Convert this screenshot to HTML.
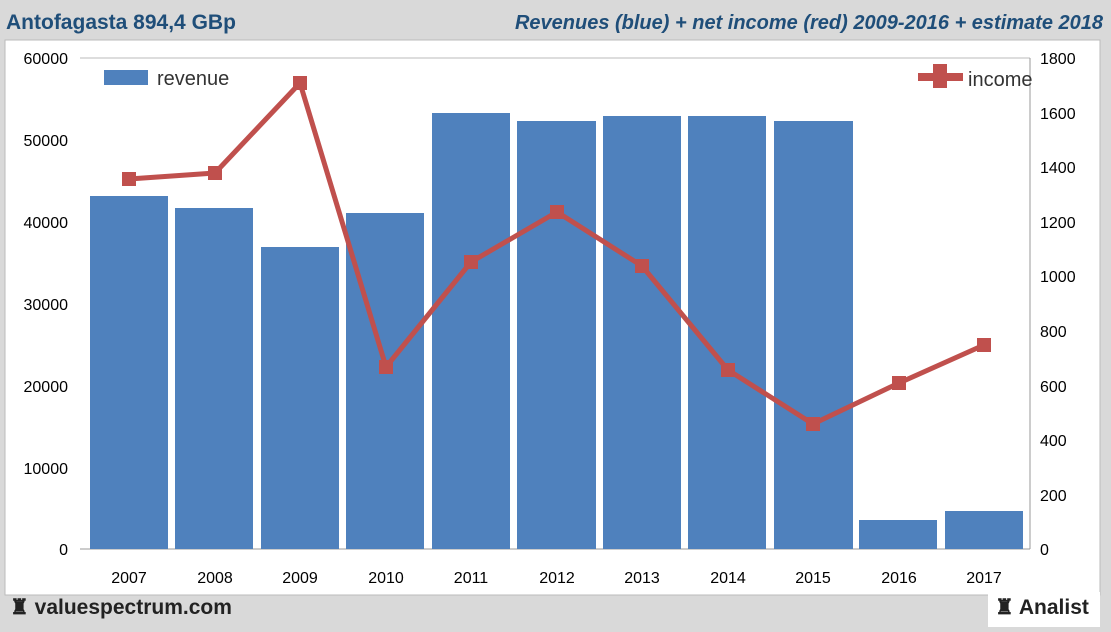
<!DOCTYPE html>
<html><head><meta charset="utf-8"><style>
body{margin:0;width:1111px;height:627px;overflow:hidden;background:#d9d9d9;font-family:"Liberation Sans",sans-serif}
</style></head><body>
<svg width="1111" height="627" xmlns="http://www.w3.org/2000/svg" font-family="Liberation Sans, sans-serif">
<rect x="0" y="0" width="1111" height="627" fill="#d9d9d9"/>
<rect x="5" y="40" width="1095" height="555" fill="#fff" stroke="#bbb"/>
<text x="6" y="29" font-size="21" font-weight="bold" fill="#1f4e79">Antofagasta 894,4 GBp</text>
<text x="1103" y="29" font-size="20" font-weight="bold" font-style="italic" fill="#1f4e79" text-anchor="end">Revenues (blue) + net income (red) 2009-2016 + estimate 2018</text>
<line x1="80" y1="58" x2="1030" y2="58" stroke="#bbb"/>
<line x1="80" y1="549" x2="1030" y2="549" stroke="#999"/>
<line x1="1030" y1="58" x2="1030" y2="549" stroke="#999"/>
<g font-size="16" fill="#000" text-anchor="end">
<text x="68" y="64">60000</text><text x="68" y="146">50000</text><text x="68" y="228">40000</text><text x="68" y="310">30000</text><text x="68" y="392">20000</text><text x="68" y="474">10000</text><text x="68" y="555">0</text>
</g>
<g font-size="16" fill="#000" text-anchor="start">
<text x="1040" y="64">1800</text><text x="1040" y="119">1600</text><text x="1040" y="173">1400</text><text x="1040" y="228">1200</text><text x="1040" y="282">1000</text><text x="1040" y="337">800</text><text x="1040" y="392">600</text><text x="1040" y="446">400</text><text x="1040" y="501">200</text><text x="1040" y="555">0</text>
</g>
<g fill="#4f81bd">
<rect x="90" y="196" width="78" height="353"/>
<rect x="175" y="208" width="78" height="341"/>
<rect x="261" y="247" width="78" height="302"/>
<rect x="346" y="213" width="78" height="336"/>
<rect x="432" y="113" width="78" height="436"/>
<rect x="517" y="121" width="79" height="428"/>
<rect x="603" y="116" width="78" height="433"/>
<rect x="688" y="116" width="78" height="433"/>
<rect x="774" y="121" width="79" height="428"/>
<rect x="859" y="520" width="78" height="29"/>
<rect x="945" y="511" width="78" height="38"/>
</g>
<polyline points="129,179 215,173 300,83 386,367 471,262 557,212 642,266 728,370 813,424 899,383 984,345" fill="none" stroke="#c0504d" stroke-width="5" stroke-linejoin="round"/>
<g fill="#c0504d">
<rect x="122" y="172" width="14" height="14"/><rect x="208" y="166" width="14" height="14"/><rect x="293" y="76" width="14" height="14"/><rect x="379" y="360" width="14" height="14"/><rect x="464" y="255" width="14" height="14"/><rect x="550" y="205" width="14" height="14"/><rect x="635" y="259" width="14" height="14"/><rect x="721" y="363" width="14" height="14"/><rect x="806" y="417" width="14" height="14"/><rect x="892" y="376" width="14" height="14"/><rect x="977" y="338" width="14" height="14"/>
</g>
<g font-size="16" fill="#000" text-anchor="middle">
<text x="129" y="583">2007</text><text x="215" y="583">2008</text><text x="300" y="583">2009</text><text x="386" y="583">2010</text><text x="471" y="583">2011</text><text x="557" y="583">2012</text><text x="642" y="583">2013</text><text x="728" y="583">2014</text><text x="813" y="583">2015</text><text x="899" y="583">2016</text><text x="984" y="583">2017</text>
</g>
<rect x="104" y="70" width="44" height="15" fill="#4f81bd"/>
<text x="157" y="85" font-size="20" fill="#333">revenue</text>
<rect x="918" y="73" width="45" height="8" fill="#c0504d"/><rect x="933" y="64" width="14" height="24" fill="#c0504d"/>
<text x="968" y="86" font-size="20" fill="#333">income</text>
<rect x="988" y="592" width="112" height="35" fill="#fff"/>
<text x="10" y="614" font-size="21" font-weight="bold" fill="#222">♜ valuespectrum.com</text>
<text x="995" y="614" font-size="21" font-weight="bold" fill="#222">♜ Analist</text>
</svg>
</body></html>
